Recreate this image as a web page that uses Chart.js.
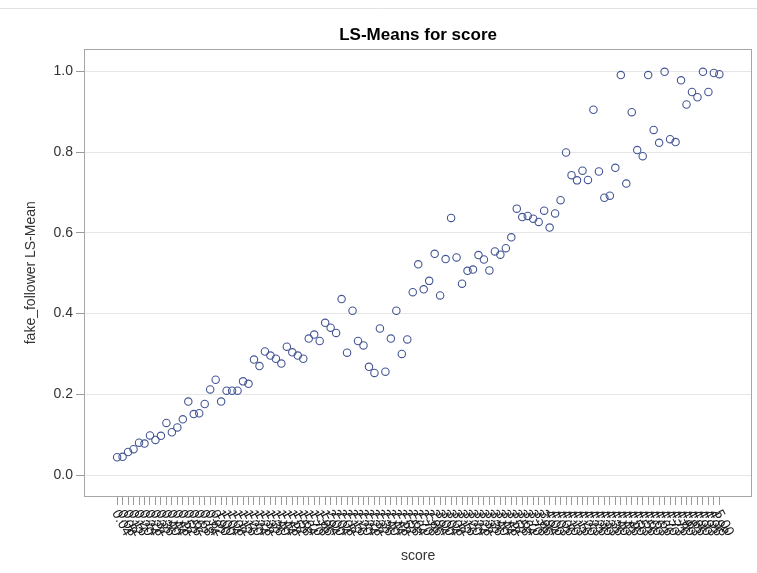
<!DOCTYPE html>
<html>
<head>
<meta charset="utf-8">
<title>LS-Means for score</title>
<script src="https://cdn.jsdelivr.net/npm/chart.js@4.4.0/dist/chart.umd.min.js"></script>
<style>
  html, body { margin: 0; padding: 0; background: #ffffff; }
  #wrap { width: 757px; height: 573px; position: relative; }
</style>
</head>
<body>
<div id="wrap"><canvas id="chart" width="757" height="573"></canvas></div>
<script>
// Score levels (category tick labels along the x axis)
const scoreLabels = [
  "0.04","0.08","0.12","0.16","0.20","0.24","0.28","0.32","0.36","0.40",
  "0.44","0.48","0.52","0.56","0.62","0.68","0.74","0.82","0.90",
  "1.00","1.04","1.08","1.12","1.16","1.20","1.24","1.28","1.32","1.36",
  "1.40","1.44","1.48","1.52","1.58","1.64","1.70","1.78","1.86","1.94",
  "2.00","2.04","2.08","2.12","2.16","2.20","2.24","2.28","2.32","2.36",
  "2.40","2.44","2.48","2.52","2.58","2.64","2.70","2.78","2.86","2.94",
  "3.00","3.04","3.08","3.12","3.16","3.20","3.24","3.28","3.32","3.36",
  "3.40","3.44","3.48","3.52","3.58","3.64","3.70","3.78","3.86","3.94",
  "4.00","4.03","4.06","4.10","4.13","4.16","4.20","4.23","4.26","4.30",
  "4.33","4.36","4.40","4.43","4.46","4.50","4.53","4.56","4.60","4.63",
  "4.66","4.70","4.73","4.76","4.80","4.83","4.86","4.90","4.93","4.96",
  "4.98","5.00"
];

// fake_follower LS-Mean for each score level
const lsMeans = [
  0.044, 0.045, 0.057, 0.064, 0.080, 0.078, 0.098, 0.087, 0.097, 0.129,
  0.106, 0.118, 0.138, 0.182, 0.151, 0.153, 0.176, 0.212, 0.236, 0.182,
  0.209, 0.209, 0.209, 0.232, 0.226, 0.286, 0.270, 0.306, 0.296, 0.288,
  0.276, 0.318, 0.304, 0.296, 0.288, 0.338, 0.348, 0.332, 0.377, 0.365,
  0.352, 0.436, 0.303, 0.407, 0.332, 0.321, 0.268, 0.253, 0.363, 0.256,
  0.338, 0.407, 0.300, 0.336, 0.453, 0.522, 0.460, 0.481, 0.548, 0.445,
  0.535, 0.637, 0.539, 0.474, 0.506, 0.509, 0.545, 0.534, 0.507, 0.554,
  0.546, 0.562, 0.589, 0.660, 0.639, 0.642, 0.635, 0.627, 0.655, 0.613,
  0.648, 0.681, 0.799, 0.743, 0.730, 0.754, 0.731, 0.905, 0.752, 0.687,
  0.692, 0.761, 0.991, 0.722, 0.899, 0.805, 0.790, 0.991, 0.855, 0.823,
  0.999, 0.832, 0.825, 0.978, 0.918, 0.949, 0.936, 0.999, 0.949, 0.996,
  0.993
];

// Value axis ticks
const yTicks = [0.0, 0.2, 0.4, 0.6, 0.8, 1.0];

const FONT = "'Liberation Sans', Arial, Helvetica, sans-serif";

const points = lsMeans.map((v, i) => ({ x: i, y: v }));

// Frame around the plot area, a thin rule at the top of the page,
// and the slanted score labels under the x axis.
const decorations = {
  id: 'decorations',
  beforeDraw(chart) {
    const ctx = chart.ctx;
    ctx.save();
    ctx.fillStyle = '#ffffff';
    ctx.fillRect(0, 0, chart.width, chart.height);
    ctx.strokeStyle = '#e2e2e2';
    ctx.lineWidth = 1;
    ctx.beginPath();
    ctx.moveTo(0, 8.5);
    ctx.lineTo(chart.width, 8.5);
    ctx.stroke();
    ctx.restore();
  },
  beforeDatasetsDraw(chart) {
    const { ctx, chartArea: a } = chart;
    ctx.save();
    ctx.strokeStyle = '#a6a6a6';
    ctx.lineWidth = 1;
    ctx.strokeRect(Math.round(a.left) + 0.5, Math.round(a.top) + 0.5,
                   Math.round(a.right - a.left) - 1, Math.round(a.bottom - a.top));
    ctx.restore();
  },
  afterDraw(chart) {
    const ctx = chart.ctx;
    const xs = chart.scales.x;
    const y0 = chart.chartArea.bottom + 15;
    const angle = 62 * Math.PI / 180;
    ctx.save();
    ctx.fillStyle = '#1a1a1a';
    ctx.font = '14px ' + FONT;
    ctx.textAlign = 'left';
    ctx.textBaseline = 'middle';
    scoreLabels.forEach((lab, i) => {
      const px = xs.getPixelForValue(i);
      ctx.save();
      ctx.translate(px - 2, y0);
      ctx.rotate(angle);
      ctx.fillText(lab, 0, 0);
      ctx.restore();
    });
    ctx.restore();
  }
};

new Chart(document.getElementById('chart'), {
  type: 'scatter',
  data: {
    datasets: [{
      label: 'LS-Mean',
      data: points,
      showLine: false,
      pointStyle: 'circle',
      pointRadius: 3.7,
      pointHoverRadius: 3.7,
      pointBorderWidth: 1.1,
      pointBorderColor: '#445694',
      pointBackgroundColor: 'rgba(0,0,0,0)'
    }]
  },
  options: {
    responsive: false,
    animation: false,
    devicePixelRatio: 1,
    layout: { padding: { top: 0, right: 4, bottom: 0, left: 0 } },
    plugins: {
      legend: { display: false },
      tooltip: { enabled: false },
      title: {
        display: true,
        fullSize: false,
        text: 'LS-Means for score',
        color: '#000000',
        font: { family: FONT, size: 17, weight: 'bold' },
        padding: { top: 25, bottom: 4 }
      }
    },
    scales: {
      x: {
        type: 'linear',
        min: -6.05,
        max: 116,
        afterBuildTicks(scale) {
          scale.ticks = scoreLabels.map((_, i) => ({ value: i }));
        },
        afterFit(scale) { scale.height = 77; },
        ticks: { display: false },
        grid: {
          drawOnChartArea: false,
          drawTicks: true,
          tickLength: 9,
          tickColor: '#9a9a9a',
          lineWidth: 1
        },
        border: { display: false },
        title: {
          display: true,
          text: 'score',
          color: '#333333',
          font: { family: FONT, size: 14 },
          padding: { top: 0, bottom: 8 }
        }
      },
      y: {
        type: 'linear',
        min: -0.052,
        max: 1.0545,
        afterBuildTicks(scale) {
          scale.ticks = yTicks.map(v => ({ value: v }));
        },
        afterFit(scale) { scale.width = 84; },
        ticks: {
          color: '#333333',
          font: { family: FONT, size: 14 },
          padding: 3,
          callback: (v) => Number(v).toFixed(1)
        },
        grid: {
          color: '#e6e6e6',
          tickColor: '#9a9a9a',
          drawTicks: true,
          tickLength: 8,
          lineWidth: 1
        },
        border: { display: false },
        title: {
          display: true,
          text: 'fake_follower LS-Mean',
          color: '#333333',
          font: { family: FONT, size: 14 },
          padding: { top: 23, bottom: 0 }
        }
      }
    }
  },
  plugins: [decorations]
});
</script>
</body>
</html>
